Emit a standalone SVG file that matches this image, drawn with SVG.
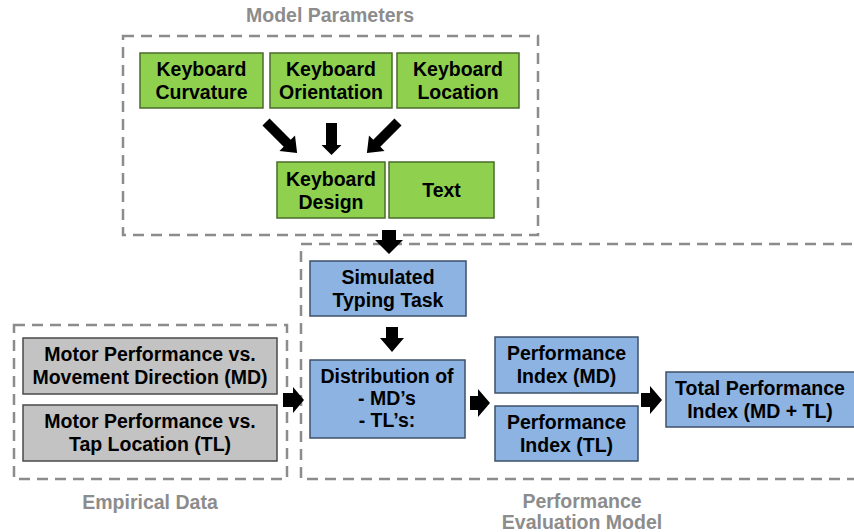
<svg xmlns="http://www.w3.org/2000/svg" width="854" height="532" viewBox="0 0 854 532">
<style>
text{font-family:"Liberation Sans",Arial,sans-serif;font-weight:bold;font-size:19.5px;text-anchor:middle;fill:#000}
.title{fill:#8c8c8c}
.grp{fill:none;stroke:#8c8c8c;stroke-width:2.5;stroke-dasharray:11 7}
.g{fill:#8fd14f;stroke:#4a6b2a;stroke-width:1.5}
.b{fill:#8db3e2;stroke:#3d5068;stroke-width:1.5}
.s{fill:#c3c3c3;stroke:#4a4a4a;stroke-width:1.5}
.arr{fill:#000}
</style>
<g id="group-model-parameters">
<rect class="grp" x="123" y="36" width="415" height="199"/>
<text class="title" x="330" y="22">Model Parameters</text>
</g>
<g id="group-empirical-data">
<rect class="grp" x="14" y="325" width="273" height="154"/>
<text class="title" x="150" y="509">Empirical Data</text>
</g>
<g id="group-performance-evaluation">
<path class="grp" d="M870 244 H301 V479 H870"/>
<text class="title" x="582" y="508">Performance</text>
<text class="title" x="582" y="529">Evaluation Model</text>
</g>
<g id="keyboard-curvature">
<rect class="g" x="140" y="53" width="123" height="55"/>
<text x="201.5" y="76">Keyboard</text><text x="201.5" y="99">Curvature</text>
</g>
<g id="keyboard-orientation">
<rect class="g" x="270" y="53" width="122" height="55"/>
<text x="331" y="76">Keyboard</text><text x="331" y="99">Orientation</text>
</g>
<g id="keyboard-location">
<rect class="g" x="397" y="53" width="122" height="55"/>
<text x="458" y="76">Keyboard</text><text x="458" y="99">Location</text>
</g>
<g id="keyboard-design">
<rect class="g" x="277" y="162" width="108" height="56"/>
<text x="331" y="186">Keyboard</text><text x="331" y="209">Design</text>
</g>
<g id="text-node">
<rect class="g" x="389" y="162" width="105" height="56"/>
<text x="441.5" y="197">Text</text>
</g>
<g id="simulated-typing-task">
<rect class="b" x="310" y="261" width="156" height="55"/>
<text x="388" y="284">Simulated</text><text x="388" y="307">Typing Task</text>
</g>
<g id="distribution">
<rect class="b" x="310" y="360" width="155" height="78"/>
<text x="387" y="383">Distribution of</text><text x="387" y="405">- MD’s</text><text x="387" y="427">- TL’s:</text>
</g>
<g id="motor-md">
<rect class="s" x="23" y="338" width="254" height="56"/>
<text x="150" y="361">Motor Performance vs.</text><text x="150" y="384">Movement Direction (MD)</text>
</g>
<g id="motor-tl">
<rect class="s" x="23" y="405" width="254" height="56"/>
<text x="150" y="428">Motor Performance vs.</text><text x="150" y="451">Tap Location (TL)</text>
</g>
<g id="performance-index-md">
<rect class="b" x="495" y="337" width="143" height="56"/>
<text x="566.5" y="360">Performance</text><text x="566.5" y="383">Index (MD)</text>
</g>
<g id="performance-index-tl">
<rect class="b" x="495" y="406" width="143" height="55"/>
<text x="566.5" y="429">Performance</text><text x="566.5" y="452">Index (TL)</text>
</g>
<g id="total-performance-index">
<rect class="b" x="666" y="372" width="200" height="55"/>
<text x="760" y="395">Total Performance</text><text x="760" y="418">Index (MD + TL)</text>
</g>
<g id="connectors">
<path class="arr" d="M0 -5 H30 V-11 L44 0 L30 11 V5 H0 Z" transform="translate(266 122) rotate(45)"/>
<path class="arr" d="M0 -5.5 H22 V-10 L32 0 L22 10 V5.5 H0 Z" transform="translate(331.5 123) rotate(90)"/>
<path class="arr" d="M0 -5 H30 V-11 L44 0 L30 11 V5 H0 Z" transform="translate(398 122) rotate(135)"/>
<path class="arr" d="M0 -7 H10 V-14 L24 0 L10 14 V7 H0 Z" transform="translate(389 230) rotate(90)"/>
<path class="arr" d="M0 -6 H11 V-12 L25 0 L11 12 V6 H0 Z" transform="translate(392 327) rotate(90)"/>
<path class="arr" d="M283 393 H293 V387 L304 400 L293 413 V407 H283 Z"/>
<path class="arr" d="M470 396 H478 V389 L490 403 L478 417 V410 H470 Z"/>
<path class="arr" d="M641 393 H650 V386 L662 400 L650 414 V407 H641 Z"/>
</g>
</svg>
